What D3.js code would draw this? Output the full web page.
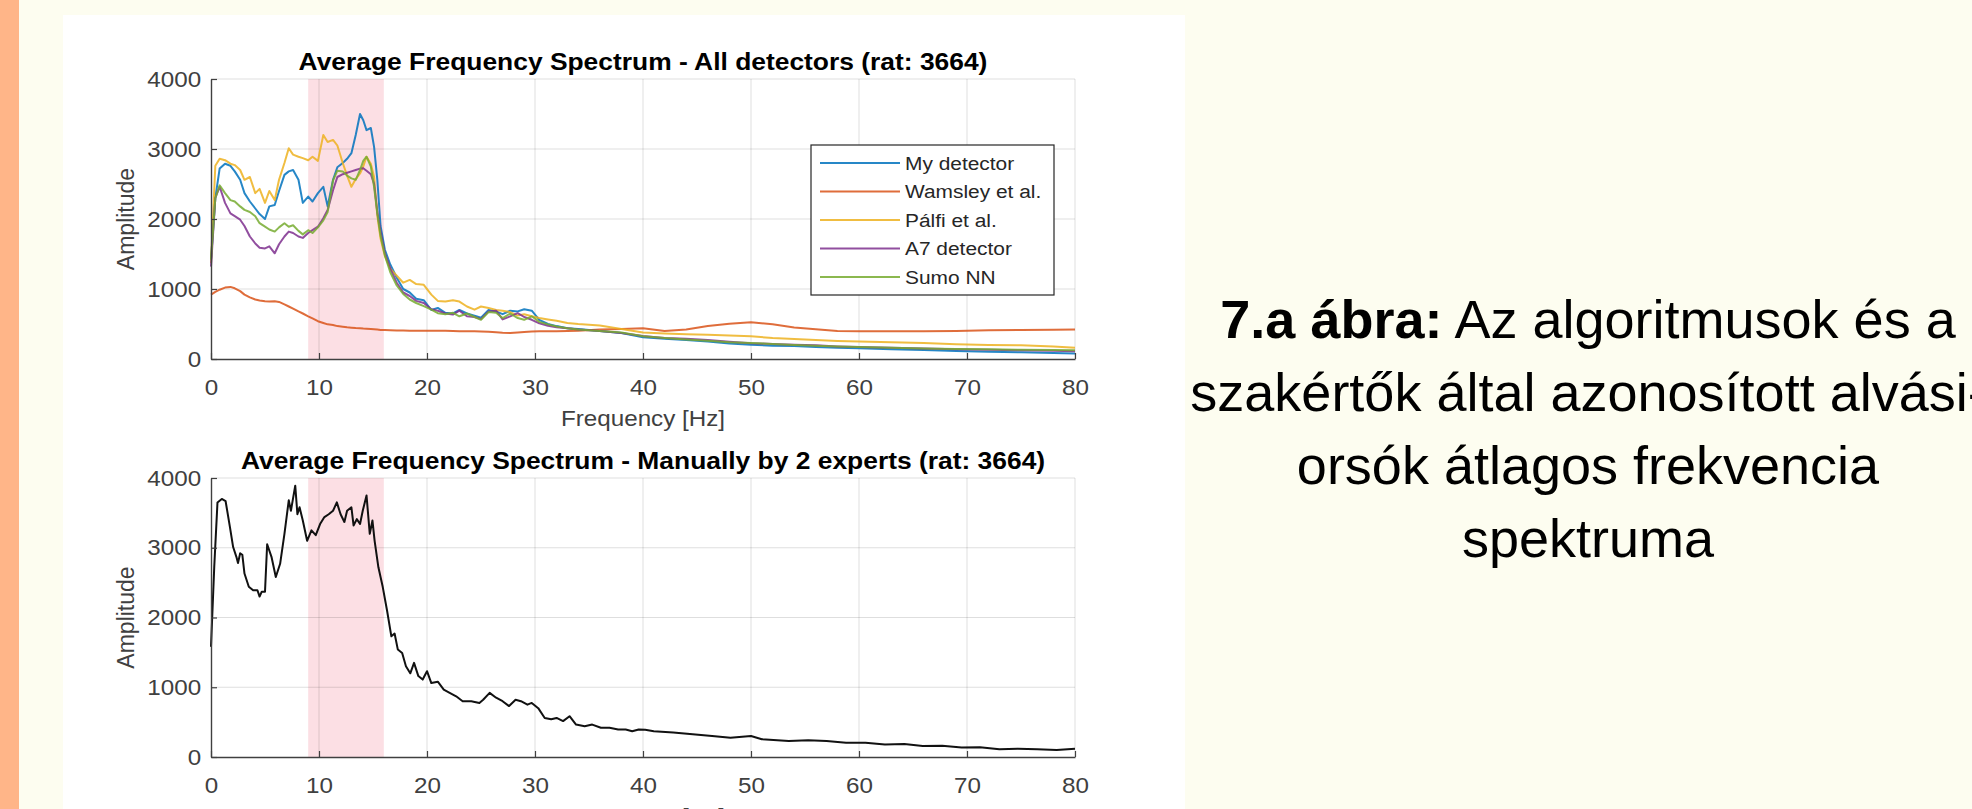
<!DOCTYPE html>
<html>
<head>
<meta charset="utf-8">
<script src="https://cdn.jsdelivr.net/npm/d3@7"></script>
<style>
  body { margin: 0; background: #fdfdf0; overflow: hidden; }
  svg { display: block; }
</style>
</head>
<body>
<svg id="fig" width="1972" height="809"></svg>
<script>
// frequency grid (Hz) shared by the five detector curves
const freq = [0,0.4,0.8,1.3,1.8,2.2,2.7,3.1,3.6,4.1,4.5,5.0,5.4,5.9,6.3,6.8,7.2,7.6,8.1,8.5,
  9.0,9.4,9.9,10.4,10.8,11.3,11.7,12.2,12.6,13.0,13.4,13.8,14.1,14.4,14.8,15.1,15.4,15.7,16.1,16.6,
  17.2,17.8,18.4,19.0,19.7,20.4,21.0,21.7,22.4,23.0,23.7,24.4,25.0,25.7,26.4,27.0,27.7,28.4,29.0,29.7,
  30.4,31.2,32.0,33,34,36,38,40,42,44,46,48,50,52,54,56,58,60,63,66,69,72,75,78,80];

const myDetector = [1420,2300,2720,2790,2760,2680,2560,2370,2250,2150,2070,2000,2180,2200,2400,2630,2680,2700,2560,2230,
  2320,2250,2370,2460,2180,2560,2740,2800,2860,2940,3200,3500,3410,3270,3300,3030,2560,1900,1560,1350,
  1160,1000,950,860,840,700,730,660,650,700,650,620,590,700,680,640,690,680,710,690,
  560,500,470,440,430,400,370,310,290,270,250,220,205,190,185,170,160,155,140,130,115,105,95,85,80];

const wamsley = [920,960,990,1020,1030,1010,970,920,880,850,835,825,820,825,815,780,750,720,680,650,
  610,580,540,515,495,485,470,460,452,448,443,440,435,432,428,425,420,416,413,410,
  408,407,405,405,404,404,403,402,400,398,396,395,392,388,382,375,372,378,385,392,
  395,396,398,400,405,420,430,440,400,420,470,505,525,495,450,425,400,395,395,395,400,410,415,418,420];

const palfi = [1370,2760,2860,2840,2790,2770,2700,2560,2600,2370,2430,2230,2400,2270,2560,2800,3010,2920,2890,2870,
  2840,2890,2830,3200,3100,3130,3050,2800,2620,2460,2570,2650,2750,2890,2790,2600,2050,1720,1470,1290,
  1190,1090,1130,1070,1060,920,830,820,840,820,750,705,750,730,700,690,670,620,640,610,
  585,565,545,515,500,480,430,380,365,355,345,335,325,300,285,270,258,250,240,228,210,200,195,180,160];

const a7Detector = [1320,2300,2460,2230,2080,2040,1990,1900,1750,1650,1590,1580,1610,1510,1640,1750,1820,1800,1750,1730,
  1800,1840,1890,2010,2130,2410,2600,2640,2660,2680,2700,2720,2725,2690,2640,2500,2100,1820,1510,1290,
  1090,950,900,830,800,710,690,650,635,690,610,600,570,680,690,565,610,655,600,560,
  510,475,455,440,420,400,370,330,300,290,270,245,225,215,205,195,180,170,160,150,140,132,125,118,110];

const sumoNN = [1420,2300,2480,2370,2270,2250,2180,2130,2100,2040,1940,1890,1850,1820,1880,1940,1890,1910,1830,1780,
  1840,1800,1880,1980,2100,2550,2690,2680,2620,2580,2560,2700,2830,2890,2750,2460,2080,1760,1480,1240,
  1050,930,850,800,755,705,655,640,660,610,650,600,560,670,660,585,650,585,560,610,
  530,495,465,440,420,400,380,325,300,280,260,240,230,215,200,190,180,172,160,150,143,138,132,128,124];

// manually scored spindles (2 experts)
const expertFreq = [0,0.3,0.6,1.0,1.35,1.75,2.05,2.35,2.5,2.7,2.9,3.1,3.5,3.9,4.3,4.5,4.7,5.0,5.2,5.6,
  6.0,6.4,6.8,7.2,7.4,7.8,8.0,8.2,8.5,8.9,9.3,9.7,10.1,10.5,10.9,11.3,11.65,12.0,12.35,12.6,
  13.0,13.2,13.5,13.8,14.05,14.4,14.7,14.95,15.15,15.5,15.9,16.3,16.7,17.0,17.3,17.7,18.05,18.45,18.8,19.2,
  19.6,20.0,20.4,21.0,21.55,22.1,22.7,23.3,24.1,24.85,25.2,25.8,26.4,27.0,27.6,28.2,28.7,29.3,29.7,30.3,
  30.9,31.5,32.0,32.6,33.2,33.8,34.6,35.3,36.1,36.9,37.7,38.4,39.0,39.6,40.2,41,42.8,44.6,46.4,48.1,
  50,51,53.5,55.3,57,58.8,60.6,62.4,64.2,65.9,67.7,69.5,71.2,73,74.7,76.5,78.3,80];
const expertAmp = [1580,2725,3650,3700,3670,3300,3010,2870,2780,2920,2900,2630,2440,2390,2390,2300,2370,2370,3050,2870,
  2580,2770,3200,3680,3530,3890,3480,3580,3390,3100,3250,3180,3340,3440,3480,3530,3650,3480,3370,3530,
  3580,3320,3410,3340,3530,3750,3200,3390,3100,2720,2440,2100,1730,1770,1540,1490,1300,1200,1350,1160,
  1110,1230,1060,1080,965,920,870,800,800,775,820,920,850,800,730,820,800,750,775,700,
  560,540,560,515,585,465,440,465,420,420,395,395,370,395,390,370,350,325,300,275,
  300,255,230,240,228,205,205,180,185,158,160,135,140,110,120,112,100,120];

const seriesNames = ["My detector", "Wamsley et al.", "Pálfi et al.", "A7 detector", "Sumo NN"];
const seriesColors = ["#0072BD", "#D95319", "#EDB120", "#7E2F8E", "#77AC30"];
const spindleBand = [9, 16];
const xTicks = [0, 10, 20, 30, 40, 50, 60, 70, 80];
const yTicks = [0, 1000, 2000, 3000, 4000];

const font = "'Liberation Sans', Arial, Helvetica, sans-serif";
const stretch = 1.1;   // the figure in the slide is a bit wider than tall

const svg = d3.select("#fig");

// slide background
svg.append("rect").attr("x", 0).attr("y", 0).attr("width", 19).attr("height", 809).attr("fill", "#ffb588");
svg.append("rect").attr("x", 63).attr("y", 15).attr("width", 1122).attr("height", 794).attr("fill", "#ffffff");

function drawPanel(top, bottom, series, title, legend) {
  const x = d3.scaleLinear().domain([0, 80]).range([211, 1075]);
  const y = d3.scaleLinear().domain([0, 4000]).range([bottom, top]);
  const g = svg.append("g");

  // spindle band
  g.append("rect")
    .attr("x", x(spindleBand[0])).attr("y", y(4000))
    .attr("width", x(spindleBand[1]) - x(spindleBand[0]))
    .attr("height", y(0) - y(4000))
    .attr("fill", "#fcdfe4");

  // grid
  g.selectAll(".gx").data(xTicks.slice(1)).join("line")
    .attr("x1", d => x(d)).attr("x2", d => x(d)).attr("y1", y(0)).attr("y2", y(4000))
    .attr("stroke", "#000").attr("stroke-opacity", 0.13);
  g.selectAll(".gy").data(yTicks.slice(1)).join("line")
    .attr("x1", x(0)).attr("x2", x(80)).attr("y1", d => y(d)).attr("y2", d => y(d))
    .attr("stroke", "#000").attr("stroke-opacity", 0.13);

  // curves
  series.forEach(s => {
    g.append("path")
      .datum(d3.zip(s.f, s.v))
      .attr("fill", "none")
      .attr("stroke", s.color)
      .attr("stroke-width", s.width)
      .attr("stroke-opacity", s.opacity)
      .attr("stroke-linejoin", "round")
      .attr("d", d3.line().x(d => x(d[0])).y(d => y(d[1])));
  });

  // axes
  const xa = g.append("g").attr("transform", `translate(0,${y(0)})`)
    .call(d3.axisBottom(x).tickValues(xTicks).tickFormat(d3.format("d"))
      .tickSize(-6).tickPadding(20).tickSizeOuter(0));
  const ya = g.append("g").attr("transform", `translate(${x(0)},0)`)
    .call(d3.axisLeft(y).tickValues(yTicks).tickFormat(d3.format("d"))
      .tickSize(-6).tickPadding(9).tickSizeOuter(0));
  [xa, ya].forEach(a => {
    a.select(".domain").attr("stroke", "#404040").attr("stroke-width", 1.4);
    a.selectAll(".tick line").attr("stroke", "#404040").attr("stroke-width", 1.2);
    a.selectAll(".tick text").attr("fill", "#404040").attr("font-family", font)
      .attr("font-size", 22).attr("transform", `scale(${stretch},1)`);
  });

  // labels
  g.append("text")
    .attr("transform", `translate(643,${top - 9}) scale(${stretch},1)`)
    .attr("text-anchor", "middle").attr("font-family", font).attr("font-weight", "bold")
    .attr("font-size", 24).attr("fill", "#000").text(title);
  g.append("text")
    .attr("transform", `translate(643,${bottom + 67}) scale(${stretch},1)`)
    .attr("text-anchor", "middle").attr("font-family", font)
    .attr("font-size", 22).attr("fill", "#404040").text("Frequency [Hz]");
  g.append("text")
    .attr("transform", `translate(134,${(top + bottom) / 2}) rotate(-90)`)
    .attr("text-anchor", "middle").attr("font-family", font)
    .attr("font-size", 23).attr("fill", "#404040").text("Amplitude");

  if (legend) {
    const lg = g.append("g");
    lg.append("rect").attr("x", 811).attr("y", 145).attr("width", 243).attr("height", 150)
      .attr("fill", "#fff").attr("stroke", "#262626").attr("stroke-width", 1.2);
    series.forEach((s, i) => {
      const ry = 163 + i * 28.5;
      lg.append("line").attr("x1", 820).attr("x2", 900).attr("y1", ry).attr("y2", ry)
        .attr("stroke", s.color).attr("stroke-width", s.width).attr("stroke-opacity", s.opacity);
      lg.append("text")
        .attr("transform", `translate(905,${ry}) scale(${stretch},1)`)
        .attr("dy", "0.35em").attr("font-family", font).attr("font-size", 19)
        .attr("fill", "#262626").text(s.name);
    });
  }
}

const detectorValues = [myDetector, wamsley, palfi, a7Detector, sumoNN];
const detectorSeries = seriesNames.map((name, i) => ({
  name: name, f: freq, v: detectorValues[i], color: seriesColors[i], width: 2, opacity: 0.85
}));

drawPanel(79, 359, detectorSeries, "Average Frequency Spectrum - All detectors (rat: 3664)", true);
drawPanel(478, 757, [{ name: "Experts", f: expertFreq, v: expertAmp, color: "#111", width: 2, opacity: 1 }],
  "Average Frequency Spectrum - Manually by 2 experts (rat: 3664)", false);

// caption on the slide
const caption = svg.append("text").attr("font-family", font).attr("font-size", 54)
  .attr("fill", "#000").attr("text-anchor", "middle");
const l1 = caption.append("tspan").attr("x", 1588).attr("y", 338);
l1.append("tspan").attr("font-weight", "bold").text("7.a ábra:");
l1.append("tspan").text(" Az algoritmusok és a");
caption.append("tspan").attr("x", 1588).attr("y", 411).text("szakértők által azonosított alvási-");
caption.append("tspan").attr("x", 1588).attr("y", 484).text("orsók átlagos frekvencia");
caption.append("tspan").attr("x", 1588).attr("y", 557).text("spektruma");
</script>
</body>
</html>
